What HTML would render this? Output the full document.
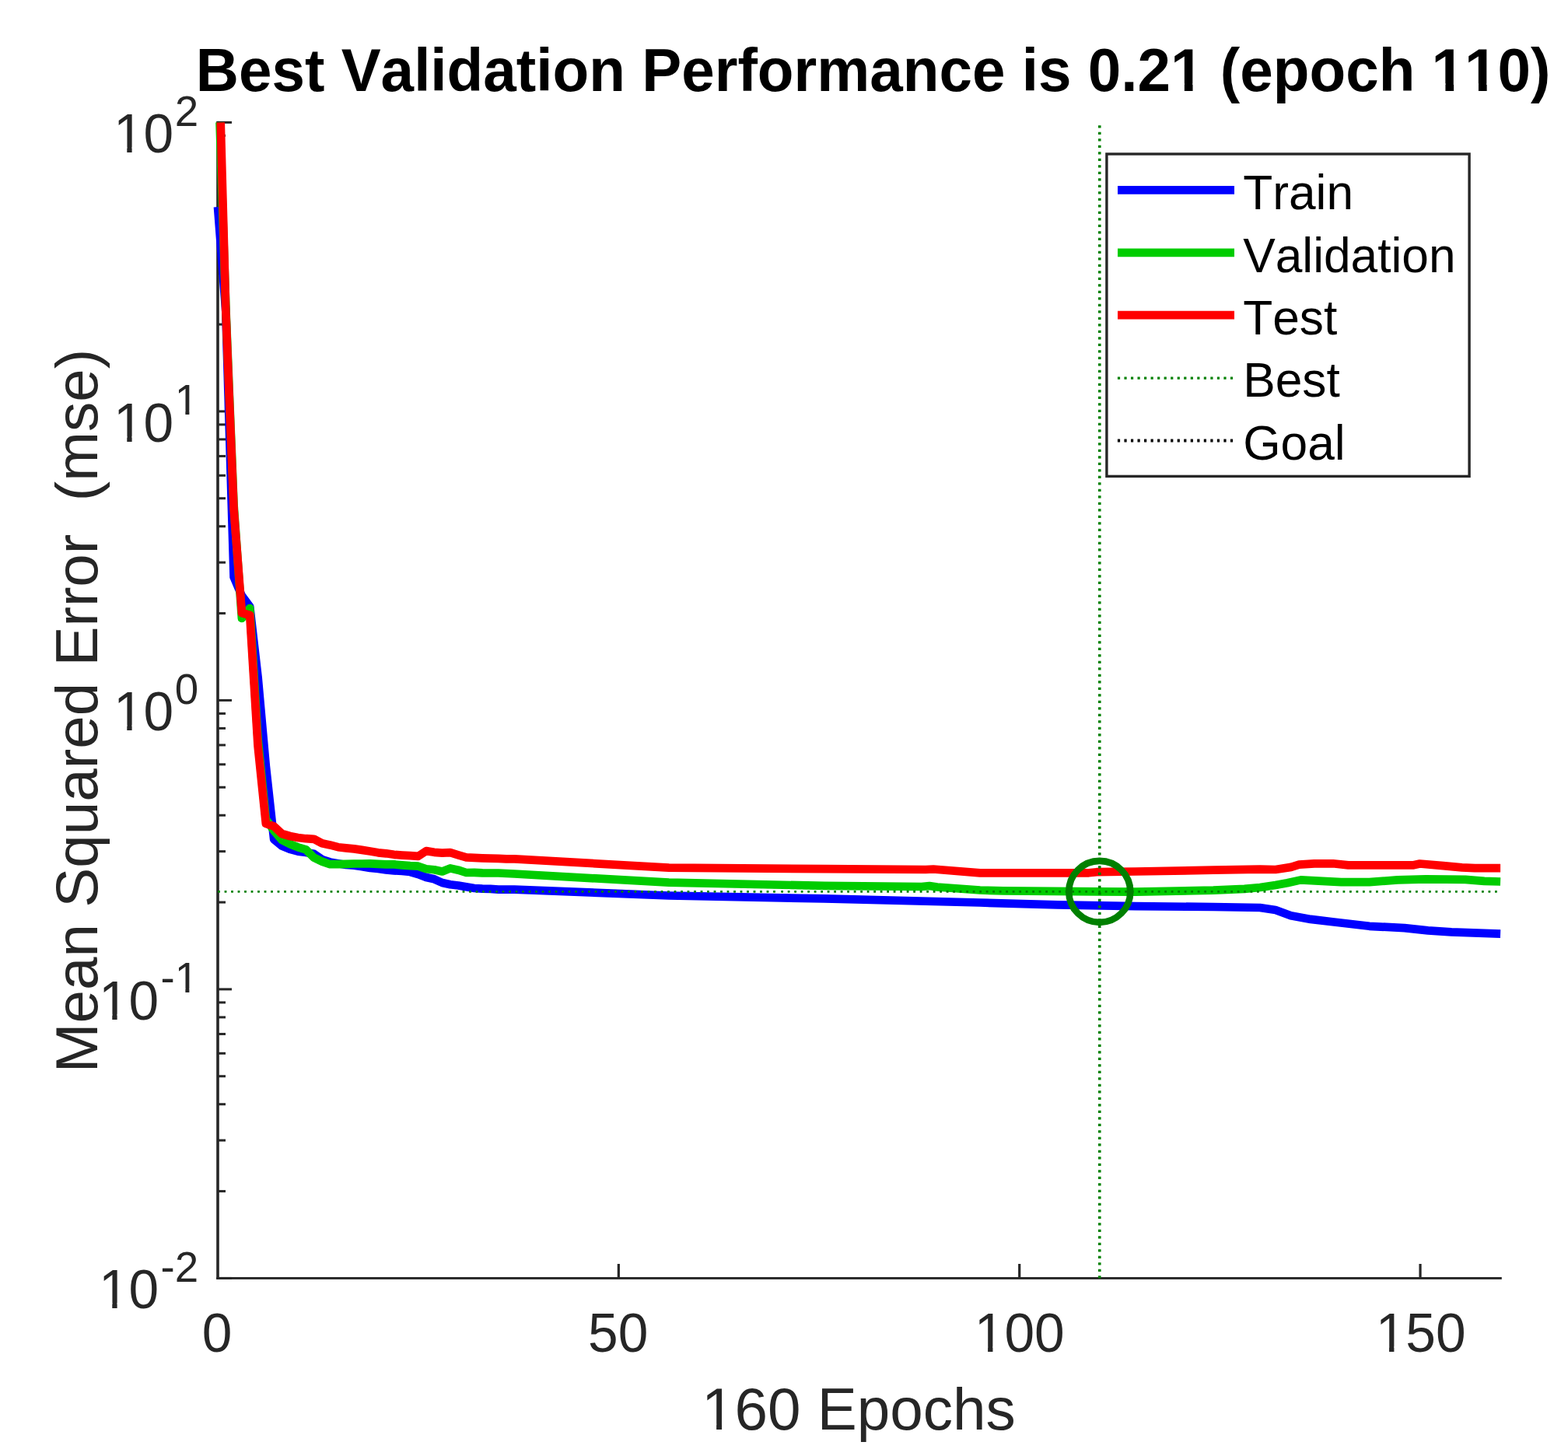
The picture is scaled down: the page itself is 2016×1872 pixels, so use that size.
<!DOCTYPE html>
<html><head><meta charset="utf-8"><title>Best Validation Performance</title>
<style>
html,body{margin:0;padding:0;background:#fff;}
body{width:2016px;height:1872px;overflow:hidden;}
svg{display:block;}
text{font-family:"Liberation Sans",Arial,Helvetica,sans-serif;font-kerning:none;white-space:pre;}
</style></head><body>
<svg width="2016" height="1872" viewBox="0 0 2016 1872">
<rect width="2016" height="1872" fill="#ffffff"/>
<rect x="278.2" y="155.9" width="3.6" height="1489.0" fill="#262626"/>
<rect x="278.2" y="1642.0" width="1652.6" height="2.9" fill="#262626"/>
<rect x="793.75" y="1625.0" width="3.2" height="18" fill="#262626"/>
<rect x="1309.10" y="1625.0" width="3.2" height="18" fill="#262626"/>
<rect x="1824.45" y="1625.0" width="3.2" height="18" fill="#262626"/>
<rect x="280" y="1641.90" width="18" height="3.0" fill="#262626"/>
<rect x="280" y="1530.07" width="10" height="3.0" fill="#262626"/>
<rect x="280" y="1464.65" width="10" height="3.0" fill="#262626"/>
<rect x="280" y="1418.23" width="10" height="3.0" fill="#262626"/>
<rect x="280" y="1382.23" width="10" height="3.0" fill="#262626"/>
<rect x="280" y="1352.82" width="10" height="3.0" fill="#262626"/>
<rect x="280" y="1327.95" width="10" height="3.0" fill="#262626"/>
<rect x="280" y="1306.40" width="10" height="3.0" fill="#262626"/>
<rect x="280" y="1287.40" width="10" height="3.0" fill="#262626"/>
<rect x="280" y="1270.40" width="18" height="3.0" fill="#262626"/>
<rect x="280" y="1158.57" width="10" height="3.0" fill="#262626"/>
<rect x="280" y="1093.15" width="10" height="3.0" fill="#262626"/>
<rect x="280" y="1046.73" width="10" height="3.0" fill="#262626"/>
<rect x="280" y="1010.73" width="10" height="3.0" fill="#262626"/>
<rect x="280" y="981.32" width="10" height="3.0" fill="#262626"/>
<rect x="280" y="956.45" width="10" height="3.0" fill="#262626"/>
<rect x="280" y="934.90" width="10" height="3.0" fill="#262626"/>
<rect x="280" y="915.90" width="10" height="3.0" fill="#262626"/>
<rect x="280" y="898.90" width="18" height="3.0" fill="#262626"/>
<rect x="280" y="787.07" width="10" height="3.0" fill="#262626"/>
<rect x="280" y="721.65" width="10" height="3.0" fill="#262626"/>
<rect x="280" y="675.23" width="10" height="3.0" fill="#262626"/>
<rect x="280" y="639.23" width="10" height="3.0" fill="#262626"/>
<rect x="280" y="609.82" width="10" height="3.0" fill="#262626"/>
<rect x="280" y="584.95" width="10" height="3.0" fill="#262626"/>
<rect x="280" y="563.40" width="10" height="3.0" fill="#262626"/>
<rect x="280" y="544.40" width="10" height="3.0" fill="#262626"/>
<rect x="280" y="527.40" width="18" height="3.0" fill="#262626"/>
<rect x="280" y="415.57" width="10" height="3.0" fill="#262626"/>
<rect x="280" y="350.15" width="10" height="3.0" fill="#262626"/>
<rect x="280" y="303.73" width="10" height="3.0" fill="#262626"/>
<rect x="280" y="267.73" width="10" height="3.0" fill="#262626"/>
<rect x="280" y="238.32" width="10" height="3.0" fill="#262626"/>
<rect x="280" y="213.45" width="10" height="3.0" fill="#262626"/>
<rect x="280" y="191.90" width="10" height="3.0" fill="#262626"/>
<rect x="280" y="172.90" width="10" height="3.0" fill="#262626"/>
<rect x="280" y="155.90" width="18" height="3.0" fill="#262626"/>
<g fill="none" stroke-width="10.7" stroke-linejoin="round" stroke-linecap="butt">
<polyline stroke="#0000ff" points="280.00,266.00 290.31,400.00 300.61,742.00 310.92,766.00 321.23,780.00 331.54,870.00 341.84,985.00 352.15,1079.00 362.46,1087.50 372.76,1091.90 383.07,1094.60 393.38,1095.90 403.68,1097.80 413.99,1105.00 424.30,1108.40 434.61,1110.30 444.91,1112.00 455.22,1112.70 465.53,1114.20 475.83,1116.00 486.14,1116.90 496.45,1118.40 506.75,1119.40 517.06,1119.90 527.37,1121.00 537.67,1124.00 547.98,1128.00 558.29,1130.30 568.60,1135.00 578.90,1137.30 589.21,1138.50 599.52,1140.30 609.82,1142.00 620.13,1142.60 630.44,1142.90 640.75,1143.60 651.05,1143.60 661.36,1143.60 860.00,1151.50 1060.00,1155.40 1260.00,1160.50 1360.00,1163.40 1460.00,1165.20 1560.00,1166.00 1620.00,1167.00 1640.00,1170.00 1659.60,1177.20 1685.20,1181.90 1715.40,1185.50 1760.60,1190.80 1805.80,1193.10 1836.00,1196.40 1866.10,1198.30 1929.12,1200.60"/>
<polyline stroke="#00cc00" points="282.51,157.40 290.31,395.00 300.61,650.00 310.92,795.00 321.23,782.00 331.54,950.00 341.84,1053.00 352.15,1068.00 362.46,1080.00 372.76,1085.20 383.07,1089.30 393.38,1092.40 403.68,1102.70 413.99,1107.60 424.30,1111.20 434.61,1111.20 444.91,1110.80 455.22,1110.50 465.53,1110.50 475.83,1110.40 486.14,1110.90 496.45,1111.40 506.75,1111.40 517.06,1112.40 527.37,1113.20 537.67,1113.70 547.98,1117.20 558.29,1118.20 568.60,1120.50 578.90,1116.40 589.21,1118.70 599.52,1122.00 609.82,1121.80 620.13,1122.30 630.44,1122.50 640.75,1122.50 651.05,1123.00 661.36,1123.50 860.00,1134.70 1060.00,1138.90 1185.00,1140.00 1195.00,1139.00 1205.00,1140.50 1260.00,1144.50 1290.00,1145.40 1413.80,1146.40 1460.00,1146.60 1560.00,1144.60 1600.00,1142.90 1620.00,1141.00 1640.00,1138.00 1655.00,1135.30 1672.40,1131.40 1700.30,1132.90 1724.40,1134.10 1760.60,1134.10 1796.80,1131.40 1833.00,1130.40 1884.20,1130.80 1908.40,1132.80 1929.12,1133.50"/>
<polyline stroke="#ff0000" points="283.71,157.40 290.31,400.00 300.61,655.00 310.92,788.00 321.23,791.00 331.54,959.00 341.84,1059.00 352.15,1062.30 362.46,1072.00 372.76,1075.00 383.07,1077.00 393.38,1078.20 403.68,1078.80 413.99,1084.30 424.30,1086.40 434.61,1089.20 444.91,1090.40 455.22,1091.40 465.53,1092.90 475.83,1094.50 486.14,1096.30 496.45,1097.30 506.75,1098.80 517.06,1099.60 527.37,1100.20 537.67,1100.90 547.98,1094.10 558.29,1095.80 568.60,1096.60 578.90,1096.10 589.21,1099.30 599.52,1102.40 609.82,1102.90 620.13,1103.40 630.44,1103.70 640.75,1103.90 651.05,1104.40 661.36,1104.40 860.00,1115.60 1060.00,1117.20 1190.00,1118.00 1200.00,1117.50 1260.00,1122.40 1400.00,1122.30 1410.00,1121.20 1460.00,1120.50 1560.00,1118.70 1620.00,1117.70 1640.00,1118.00 1660.00,1114.90 1670.20,1111.70 1689.80,1110.30 1713.90,1110.30 1733.50,1112.40 1816.40,1112.40 1825.40,1110.50 1855.60,1113.20 1879.70,1115.40 1896.30,1116.20 1929.12,1116.20"/>
</g>
<line x1="1413.77" y1="1643.40" x2="1413.77" y2="157.40" stroke="#008000" stroke-width="3.6" stroke-dasharray="3.2 5.3"/>
<line x1="280.00" y1="1146.40" x2="1000.00" y2="1146.40" stroke="#008000" stroke-width="2.8" stroke-dasharray="2.8 5.7" stroke-dashoffset="-0.10"/>
<line x1="1000.00" y1="1146.40" x2="1600.00" y2="1146.40" stroke="#008000" stroke-width="2.8" stroke-dasharray="2.8 5.7" stroke-dashoffset="-4.20"/>
<line x1="1600.00" y1="1146.40" x2="1929.12" y2="1146.40" stroke="#008000" stroke-width="2.8" stroke-dasharray="2.8 5.7" stroke-dashoffset="1.00"/>
<circle cx="1413.77" cy="1146.40" r="39.5" fill="none" stroke="#008000" stroke-width="8.6"/>
<rect x="1422.90" y="198.00" width="466.20" height="414.40" fill="#ffffff" stroke="#262626" stroke-width="3.4"/>
<line x1="1437" y1="244.40" x2="1587" y2="244.40" stroke="#0000ff" stroke-width="10.7"/>
<text x="1598.20" y="269.10" font-size="62.25" fill="#000000" font-weight="normal">Train</text>
<line x1="1437" y1="324.80" x2="1587" y2="324.80" stroke="#00cc00" stroke-width="10.7"/>
<text x="1598.20" y="349.50" font-size="62.25" fill="#000000" font-weight="normal">Validation</text>
<line x1="1437" y1="405.20" x2="1587" y2="405.20" stroke="#ff0000" stroke-width="10.7"/>
<text x="1598.20" y="429.90" font-size="62.25" fill="#000000" font-weight="normal">Test</text>
<line x1="1436.9" y1="486.20" x2="1587" y2="486.20" stroke="#008000" stroke-width="3.2" stroke-dasharray="3.2 5.33"/>
<text x="1598.20" y="510.30" font-size="62.25" fill="#000000" font-weight="normal">Best</text>
<line x1="1436.9" y1="566.60" x2="1587" y2="566.60" stroke="#000000" stroke-width="4.0" stroke-dasharray="3.2 5.33"/>
<text x="1598.20" y="590.70" font-size="62.25" fill="#000000" font-weight="normal">Goal</text>
<text transform="translate(259.68,1738.20) scale(1,1.0250)" font-size="69.50" fill="#262626" font-weight="normal">0</text>
<text transform="translate(756.11,1738.20) scale(1,1.0250)" font-size="69.50" fill="#262626" font-weight="normal">50</text>
<text transform="translate(1252.74,1738.20) scale(1,1.0250)" font-size="69.50" fill="#262626" font-weight="normal">100</text>
<text transform="translate(1768.69,1738.20) scale(1,1.0250)" font-size="69.50" fill="#262626" font-weight="normal">150</text>
<text transform="translate(126.90,1682.10) scale(1,1.0250)" font-size="69.50" fill="#262626" font-weight="normal">10</text>
<text transform="translate(206.50,1647.90) scale(1,1.0250)" font-size="54.70" fill="#262626" font-weight="normal">-2</text>
<text transform="translate(126.90,1310.60) scale(1,1.0250)" font-size="69.50" fill="#262626" font-weight="normal">10</text>
<text transform="translate(206.50,1276.40) scale(1,1.0250)" font-size="54.70" fill="#262626" font-weight="normal">-1</text>
<text transform="translate(145.90,939.10) scale(1,1.0250)" font-size="69.50" fill="#262626" font-weight="normal">10</text>
<text transform="translate(224.70,904.90) scale(1,1.0250)" font-size="54.70" fill="#262626" font-weight="normal">0</text>
<text transform="translate(145.90,567.60) scale(1,1.0250)" font-size="69.50" fill="#262626" font-weight="normal">10</text>
<text transform="translate(224.70,533.40) scale(1,1.0250)" font-size="54.70" fill="#262626" font-weight="normal">1</text>
<text transform="translate(145.90,196.10) scale(1,1.0250)" font-size="69.50" fill="#262626" font-weight="normal">10</text>
<text transform="translate(224.70,161.90) scale(1,1.0250)" font-size="54.70" fill="#262626" font-weight="normal">2</text>
<text x="902.00" y="1837.70" font-size="76.45" fill="#262626" font-weight="normal">160 Epochs</text>
<text transform="translate(125,1379.2) rotate(-90)" font-size="76.45" fill="#262626" xml:space="preserve">Mean Squared Error  (mse)</text>
<text transform="translate(251.70,116.80) scale(1,1.0250)" font-size="76.45" fill="#000000" font-weight="bold">Best Validation Performance is 0.21 (epoch 110)</text>
<rect x="1257.01" y="1731.41" width="13.10" height="8.29" fill="#ffffff"/>
<rect x="1276.46" y="1731.41" width="12.66" height="8.29" fill="#ffffff"/>
<rect x="1772.96" y="1731.41" width="13.10" height="8.29" fill="#ffffff"/>
<rect x="1792.41" y="1731.41" width="12.66" height="8.29" fill="#ffffff"/>
<rect x="131.18" y="1675.31" width="13.10" height="8.29" fill="#ffffff"/>
<rect x="150.62" y="1675.31" width="12.66" height="8.29" fill="#ffffff"/>
<rect x="131.18" y="1303.81" width="13.10" height="8.29" fill="#ffffff"/>
<rect x="150.62" y="1303.81" width="12.66" height="8.29" fill="#ffffff"/>
<rect x="228.08" y="1270.93" width="10.29" height="6.97" fill="#ffffff"/>
<rect x="243.40" y="1270.93" width="9.96" height="6.97" fill="#ffffff"/>
<rect x="150.18" y="932.31" width="13.10" height="8.29" fill="#ffffff"/>
<rect x="169.62" y="932.31" width="12.66" height="8.29" fill="#ffffff"/>
<rect x="150.18" y="560.81" width="13.10" height="8.29" fill="#ffffff"/>
<rect x="169.62" y="560.81" width="12.66" height="8.29" fill="#ffffff"/>
<rect x="228.07" y="527.93" width="10.29" height="6.97" fill="#ffffff"/>
<rect x="243.39" y="527.93" width="9.96" height="6.97" fill="#ffffff"/>
<rect x="150.18" y="189.31" width="13.10" height="8.29" fill="#ffffff"/>
<rect x="169.62" y="189.31" width="12.66" height="8.29" fill="#ffffff"/>
<rect x="906.70" y="1830.46" width="14.42" height="8.74" fill="#ffffff"/>
<rect x="928.08" y="1830.46" width="13.92" height="8.74" fill="#ffffff"/>
<rect x="1508.79" y="107.25" width="14.05" height="11.05" fill="#ffffff"/>
<rect x="1533.53" y="107.25" width="13.18" height="11.05" fill="#ffffff"/>
<rect x="1844.38" y="107.25" width="14.05" height="11.05" fill="#ffffff"/>
<rect x="1869.12" y="107.25" width="13.18" height="11.05" fill="#ffffff"/>
<rect x="1886.90" y="107.25" width="14.05" height="11.05" fill="#ffffff"/>
<rect x="1911.64" y="107.25" width="13.18" height="11.05" fill="#ffffff"/>
</svg>
</body></html>
